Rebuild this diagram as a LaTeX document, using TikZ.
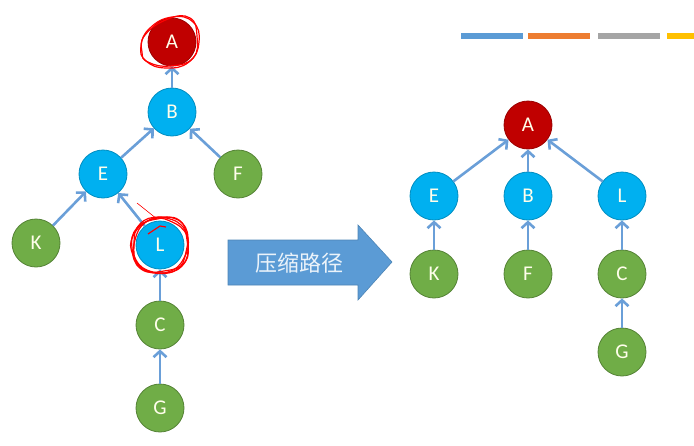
\documentclass[tikz,border=0pt]{standalone}
\usepackage{fontspec}
\setmainfont{Carlito}
\newfontfamily\cjk{Noto Sans CJK SC}
\usepackage{tikz}
\usetikzlibrary{arrows.meta}
\usepackage{xcolor}
\definecolor{nodeblue}{HTML}{00B0F0}
\definecolor{nodegreen}{HTML}{70AD47}
\definecolor{nodered}{HTML}{C00000}
\definecolor{linkblue}{HTML}{6A9FD8}
\definecolor{arrowblue}{HTML}{5B9BD5}
\definecolor{barorange}{HTML}{ED7D31}
\definecolor{bargray}{HTML}{A5A5A5}
\definecolor{baryellow}{HTML}{FFC000}

\begin{document}
\begin{tikzpicture}[x=1pt, y=-1pt,
    vert/.style={circle, minimum size=48pt, inner sep=0pt, line width=0.8pt,
        font=\fontsize{21}{21}\selectfont, text=white!92!yellow},
    bluenode/.style={vert, fill=nodeblue, draw=nodeblue!80!black},
    greennode/.style={vert, fill=nodegreen, draw=nodegreen!75!black},
    rednode/.style={vert, fill=nodered, draw=nodered!80!black},
    link/.style={-{Straight Barb[length=6pt, width=13pt]}, line width=2.6pt, draw=linkblue},
    scribble/.style={draw=red, line width=1.2pt}]
    \useasboundingbox (0,0) rectangle (694,445);

    % colour bars of the slide header
    \fill[arrowblue] (461,33) rectangle (523,39);
    \fill[barorange] (528,33) rectangle (590,39);
    \fill[bargray] (598,33) rectangle (660,39);
    \fill[baryellow] (667,33) rectangle (694,39);

    % tree before the find
    \node[rednode] (lA) at (172,42) {A};
    \node[bluenode] (lB) at (172,112) {B};
    \node[bluenode] (lE) at (103,174) {E};
    \node[greennode] (lF) at (238,174) {F};
    \node[greennode] (lK) at (36,243) {K};
    \node[bluenode] (lL) at (160,245) {L};
    \node[greennode] (lC) at (160,325) {C};
    \node[greennode] (lG) at (160,408) {G};

    \draw[link] (lB) -- (lA);
    \draw[link] (lE) -- (lB);
    \draw[link] (lF) -- (lB);
    \draw[link] (lK) -- (lE);
    \draw[link] (lL) -- (lE);
    \draw[link] (lC) -- (lL);
    \draw[link] (lG) -- (lC);

    % red pen marks
    \draw[scribble] plot[smooth cycle, tension=0.8] coordinates
        {(150,28) (172,17) (193,22) (199,42) (189,62) (166,68) (146,61) (141,46)};
    \draw[scribble] plot[smooth cycle, tension=0.8] coordinates
        {(145,35) (168,19) (190,18) (197,36) (193,58) (170,66) (148,62) (142,52)};
    \draw[scribble] plot[smooth cycle, tension=0.8] coordinates
        {(134,244) (140,224) (160,217) (182,223) (188,244) (182,266) (160,273) (139,266)};
    \draw[scribble] plot[smooth cycle, tension=0.8] coordinates
        {(132,248) (137,228) (157,219) (179,220) (187,240) (185,262) (164,271) (141,269)};
    \draw[scribble] plot[smooth cycle, tension=0.8] coordinates
        {(135,240) (146,222) (166,218) (185,230) (186,252) (176,270) (153,272) (136,260)};
    \draw[scribble] plot[smooth cycle, tension=0.8] coordinates
        {(133,236) (150,220) (170,221) (187,236) (184,258) (168,272) (146,270) (133,255)};
    \draw[scribble, line width=0.6pt] (137,203) -- (157,219);
    \draw[scribble] (148,234) -- (160,226) -- (166,227);

    % big arrow
    \filldraw[fill=arrowblue, draw=arrowblue!85!black, line width=0.6pt]
        (228,240) -- (358,240) -- (358,225) -- (392,262) -- (358,300)
        -- (358,285) -- (228,285) -- cycle;
    \node[font=\cjk\fontsize{22}{22}\selectfont, text=white!88!arrowblue] (squash) at (299,263) {压缩路径};

    % tree after the find
    \node[rednode] (rA) at (528,125) {A};
    \node[bluenode] (rE) at (434,196) {E};
    \node[bluenode] (rB) at (528,196) {B};
    \node[bluenode] (rL) at (622,196) {L};
    \node[greennode] (rK) at (434,274) {K};
    \node[greennode] (rF) at (528,274) {F};
    \node[greennode] (rC) at (622,274) {C};
    \node[greennode] (rG) at (622,352) {G};

    \draw[link] (rE) -- (rA);
    \draw[link] (rB) -- (rA);
    \draw[link] (rL) -- (rA);
    \draw[link] (rK) -- (rE);
    \draw[link] (rF) -- (rB);
    \draw[link] (rC) -- (rL);
    \draw[link] (rG) -- (rC);
\end{tikzpicture}
\end{document}
